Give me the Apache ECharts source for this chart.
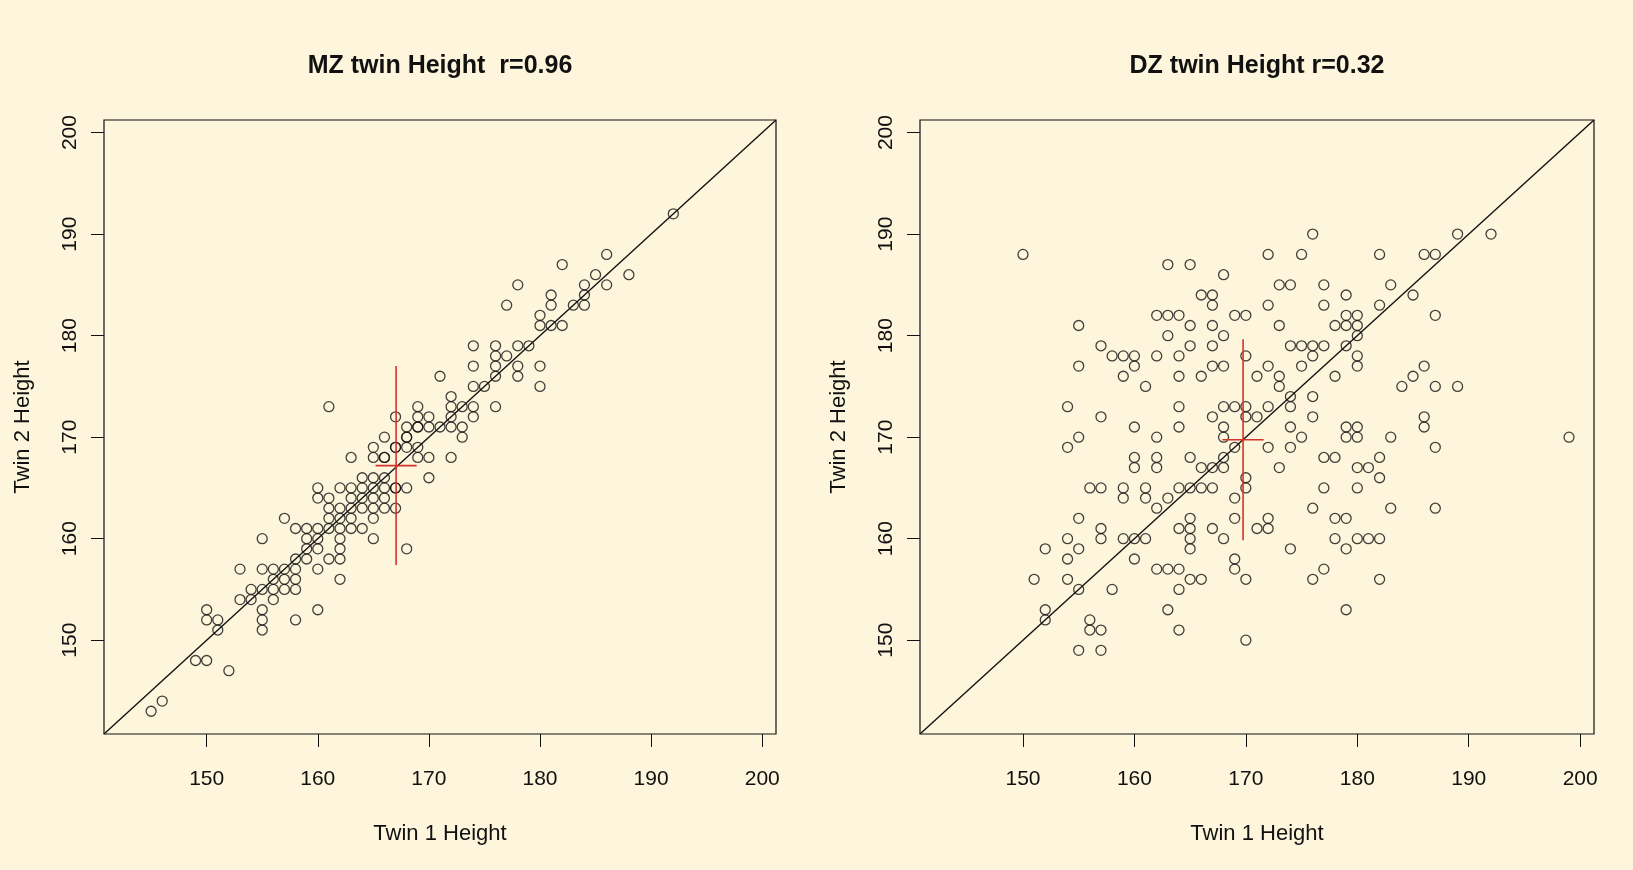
<!DOCTYPE html>
<html>
<head>
<meta charset="utf-8">
<title>Twin heights</title>
<script src="https://cdn.jsdelivr.net/npm/echarts@6/dist/echarts.min.js"></script>
<style>
  html, body { margin: 0; padding: 0; background: #fdf6dc; }
  #chart { width: 1633px; height: 870px; }
</style>
</head>
<body>
<div id="chart"></div>
<script>
// axis range (R style 4% padding around 143..199)
var axisMin = 140.76;
var axisMax = 201.24;
var tickValues = [150, 160, 170, 180, 190, 200];

var panelTitles = ['MZ twin Height  r=0.96', 'DZ twin Height r=0.32'];
var xName = 'Twin 1 Height';
var yName = 'Twin 2 Height';

// [twin 1, twin 2] heights, monozygotic
var mzHeights = [
  [145,143],[146,144],[149,148],[150,148],[152,147],[150,153],[150,152],[151,152],[151,151],
  [153,154],[154,154],[154,155],[155,155],[155,153],[155,152],[155,151],[156,154],[156,155],
  [156,156],[156,157],[157,155],[157,156],[157,157],[158,155],[158,156],[158,152],[160,153],
  [153,157],[155,157],[160,157],[162,156],[158,157],[155,160],[161,173],
  [166,170],[168,170],[169,171],
  [165,169],[167,169],[168,169],[169,169],
  [163,168],[165,168],[166,168],[169,168],[170,168],
  [170,166],[164,166],[165,166],
  [160,165],[162,165],[163,165],[164,165],[165,165],[166,165],[167,165],[168,165],
  [160,164],[161,164],[163,164],[164,164],[165,164],[166,164],
  [161,163],[162,163],[163,163],[164,163],[165,163],[166,163],[167,163],
  [157,162],[161,162],[162,162],[163,162],[165,162],
  [158,161],[159,161],[160,161],[161,161],[162,161],[163,161],[164,161],
  [159,160],[160,160],[162,160],[165,160],
  [159,159],[160,159],[162,159],[168,159],
  [158,158],[159,158],[161,158],[162,158],
  [174,179],[176,179],[176,178],[178,179],[179,179],[177,178],[174,177],[176,177],[178,177],
  [178,176],[176,176],[171,176],[174,175],[175,175],[172,174],[176,173],[169,173],[169,172],
  [172,173],[172,172],[173,173],[174,173],[174,172],[170,172],[167,172],[168,171],[169,171],
  [170,171],[171,171],[172,171],[173,171],[173,170],[168,170],[167,169],[166,168],[172,168],
  [167,165],[166,166],
  [192,192],[186,188],[182,187],[188,186],[185,186],[186,185],[184,185],[184,184],[178,185],
  [181,184],[181,183],[183,183],[184,183],[177,183],[180,182],[180,181],[181,181],[182,181],
  [180,177],[180,175]
];

// [twin 1, twin 2] heights, dizygotic
var dzHeights = [
  [150,188],[163,187],[165,187],[166,184],[162,182],[163,182],[164,182],[165,181],[155,181],
  [163,180],[165,179],[157,179],[158,178],[159,178],[160,178],[162,178],[164,178],[160,177],
  [155,177],[159,176],[164,176],[161,175],[154,173],[157,172],[164,173],[160,171],[164,171],
  [155,170],[154,169],[162,170],[160,168],[162,168],[165,168],
  [176,190],[172,188],[175,188],[182,188],[168,186],[173,185],[174,185],[177,185],[183,185],
  [167,184],[167,183],[179,184],[172,183],[177,183],[182,183],[169,182],[170,182],[173,181],
  [179,182],[180,182],[178,181],[179,181],[180,181],[180,180],[167,181],[167,179],[168,180],
  [174,179],[175,179],[176,179],[177,179],[176,178],[179,179],[180,178],[180,177],[170,178],
  [167,177],[168,177],[166,176],[172,177],[175,177],[171,176],[173,176],[173,175],[178,176],
  [174,174],[176,174],[168,173],[169,173],[170,173],[167,172],[170,172],[171,172],[172,173],
  [174,173],[176,172],[168,171],[174,171],[175,170],[179,171],[180,171],[179,170],[180,170],
  [183,170],[168,170],[172,169],[174,169],[169,169],[168,168],[177,168],[178,168],[182,168],
  [189,190],[192,190],[186,188],[187,188],[185,184],[187,182],[186,177],[185,176],[184,175],
  [187,175],[189,175],[186,172],[186,171],[199,170],[187,169],
  [160,167],[162,167],[166,167],[156,165],[157,165],[159,165],[159,164],[161,165],[161,164],
  [164,165],[165,165],[166,165],[167,165],[162,163],[163,164],[155,162],[157,161],[157,160],
  [165,162],[165,161],[165,160],[165,159],[164,161],[167,161],[159,160],[160,160],[161,160],
  [154,160],[152,159],[155,159],[154,158],[160,158],[162,157],[163,157],[164,157],[151,156],
  [154,156],[165,156],[166,156],[155,155],[158,155],[164,155],[152,153],[152,152],[163,153],
  [156,152],[156,151],[157,151],[164,151],[155,149],[157,149],
  [167,167],[168,167],[173,167],[180,167],[181,167],[182,166],[170,166],[170,165],[177,165],
  [180,165],[169,164],[176,163],[183,163],[169,162],[172,162],[171,161],[172,161],[178,162],
  [179,162],[168,160],[178,160],[180,160],[181,160],[182,160],[179,159],[174,159],[169,158],
  [169,157],[177,157],[176,156],[170,156],[182,156],[179,153],[170,150],[187,163]
];

// red cross: [mean twin 1, mean twin 2] and half-lengths [horizontal, vertical]
var mzMean = [167.05, 167.2];
var mzSpread = [1.85, 9.8];
var dzMean = [169.75, 169.75];
var dzSpread = [1.85, 9.9];

var fontFamily = "'Liberation Sans', Arial, Helvetica, sans-serif";
var ink = '#111111';
var crossColor = '#d2332b';

function makeXAxis(gridIndex) {
  return {
    type: 'value',
    gridIndex: gridIndex,
    min: axisMin,
    max: axisMax,
    name: xName,
    nameLocation: 'middle',
    nameGap: 89,
    nameTextStyle: { fontFamily: fontFamily, fontSize: 22, color: ink },
    axisLine: { show: false },
    axisTick: {
      show: true,
      customValues: tickValues,
      length: 13,
      lineStyle: { color: ink, width: 1 }
    },
    axisLabel: {
      customValues: tickValues,
      fontFamily: fontFamily,
      fontSize: 21,
      color: ink,
      margin: 35
    },
    splitLine: { show: false }
  };
}

function makeYAxis(gridIndex) {
  return {
    type: 'value',
    gridIndex: gridIndex,
    min: axisMin,
    max: axisMax,
    name: yName,
    nameLocation: 'middle',
    nameGap: 70,
    nameTextStyle: { fontFamily: fontFamily, fontSize: 22, color: ink },
    axisLine: { show: false },
    axisTick: {
      show: true,
      customValues: tickValues,
      length: 13,
      lineStyle: { color: ink, width: 1 }
    },
    axisLabel: {
      customValues: tickValues,
      fontFamily: fontFamily,
      fontSize: 21,
      color: ink,
      rotate: 90,
      margin: 23
    },
    splitLine: { show: false }
  };
}

function panelSeries(idx, points, mean, spread) {
  return [
    {
      type: 'line',
      xAxisIndex: idx,
      yAxisIndex: idx,
      data: [[axisMin, axisMin], [axisMax, axisMax]],
      symbol: 'none',
      lineStyle: { color: ink, width: 1.4 },
      silent: true,
      z: 1
    },
    {
      type: 'scatter',
      xAxisIndex: idx,
      yAxisIndex: idx,
      data: points,
      symbol: 'circle',
      symbolSize: 10,
      itemStyle: { color: 'rgba(0,0,0,0)', borderColor: ink, borderWidth: 1.3 },
      z: 2
    },
    {
      type: 'line',
      xAxisIndex: idx,
      yAxisIndex: idx,
      data: [[mean[0] - spread[0], mean[1]], [mean[0] + spread[0], mean[1]]],
      symbol: 'none',
      lineStyle: { color: crossColor, width: 1.6 },
      z: 3
    },
    {
      type: 'line',
      xAxisIndex: idx,
      yAxisIndex: idx,
      data: [[mean[0], mean[1] - spread[1]], [mean[0], mean[1] + spread[1]]],
      symbol: 'none',
      lineStyle: { color: crossColor, width: 1.6 },
      z: 3
    }
  ];
}

var myChart = echarts.init(document.getElementById('chart'));

myChart.setOption({
  backgroundColor: '#fdf6dc',
  animation: false,
  title: [
    {
      text: panelTitles[0],
      left: 440,
      top: 54,
      textAlign: 'center',
      padding: 0,
      textStyle: { fontFamily: fontFamily, fontSize: 25, fontWeight: 'bold', color: ink }
    },
    {
      text: panelTitles[1],
      left: 1257,
      top: 54,
      textAlign: 'center',
      padding: 0,
      textStyle: { fontFamily: fontFamily, fontSize: 25, fontWeight: 'bold', color: ink }
    }
  ],
  grid: [
    { left: 104, top: 120, width: 672, height: 614, show: true, borderColor: ink, borderWidth: 1.2, backgroundColor: 'transparent' },
    { left: 920, top: 120, width: 674, height: 614, show: true, borderColor: ink, borderWidth: 1.2, backgroundColor: 'transparent' }
  ],
  xAxis: [makeXAxis(0), makeXAxis(1)],
  yAxis: [makeYAxis(0), makeYAxis(1)],
  series: panelSeries(0, mzHeights, mzMean, mzSpread)
    .concat(panelSeries(1, dzHeights, dzMean, dzSpread))
});
</script>
</body>
</html>
